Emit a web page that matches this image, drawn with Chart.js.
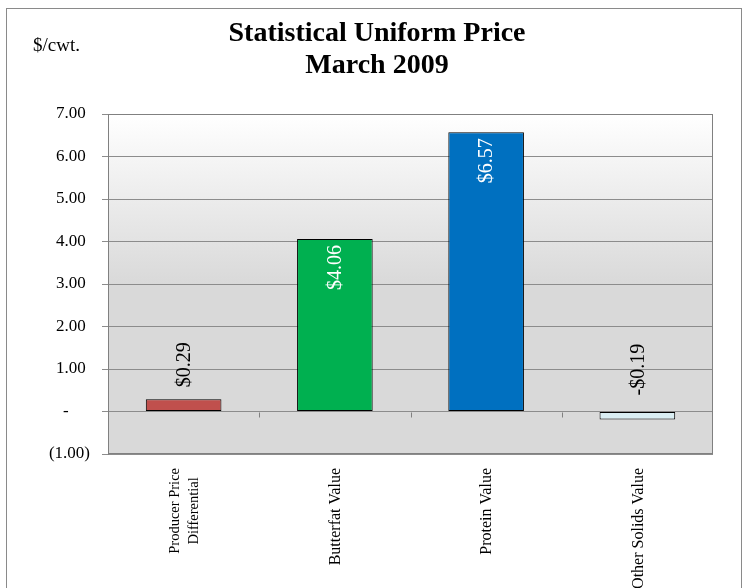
<!DOCTYPE html>
<html>
<head>
<meta charset="utf-8">
<script src="https://cdn.jsdelivr.net/npm/chart.js@4/dist/chart.umd.min.js"></script>
<style>
  html, body { margin: 0; padding: 0; background: #ffffff; }
  #wrap { width: 751px; height: 588px; position: relative; }
</style>
</head>
<body>
<div id="wrap"><canvas id="c" width="751" height="588"></canvas></div>
<script>
// ---- data ----
const titleLines = ['Statistical Uniform Price', 'March 2009'];
const unitLabel = '$/cwt.';
const categories = [['Producer Price', 'Differential'], ['Butterfat Value'], ['Protein Value'], ['Other Solids Value']];
const values = [0.29, 4.06, 6.57, -0.19];
const valueLabels = ['$0.29', '$4.06', '$6.57', '-$0.19'];
const yTickValues = [-1, 0, 1, 2, 3, 4, 5, 6, 7];
const yTickLabels = ['(1.00)', '-     ', '1.00 ', '2.00 ', '3.00 ', '4.00 ', '5.00 ', '6.00 ', '7.00 '];
const barColors = ['#C0504D', '#00B050', '#0070C0', '#DAEEF3'];

const SERIF = '"Liberation Serif", "Times New Roman", serif';

const decor = {
  id: 'decor',
  beforeDraw(chart) {
    const ctx = chart.ctx;
    const a = chart.chartArea;
    ctx.save();
    ctx.fillStyle = '#ffffff';
    ctx.fillRect(0, 0, chart.width, chart.height);
    // outer frame
    ctx.strokeStyle = '#8a8a8a';
    ctx.lineWidth = 1;
    ctx.strokeRect(6.5, 8.5, 735, 620);
    // plot gradient
    const g = ctx.createLinearGradient(0, a.top, 0, a.bottom);
    g.addColorStop(0, '#ffffff');
    g.addColorStop(0.5, '#d9d9d9');
    g.addColorStop(1, '#d9d9d9');
    ctx.fillStyle = g;
    ctx.fillRect(a.left, a.top, a.right - a.left, a.bottom - a.top);
    // title
    ctx.fillStyle = '#000000';
    ctx.textAlign = 'center';
    ctx.textBaseline = 'middle';
    ctx.font = 'bold 28px ' + SERIF;
    titleLines.forEach((t, i) => ctx.fillText(t, 377, 34 + i * 32));
    ctx.font = '19px ' + SERIF;
    ctx.textAlign = 'left';
    ctx.fillText(unitLabel, 33, 46);
    ctx.restore();
  },
  beforeDatasetsDraw(chart) {
    const ctx = chart.ctx;
    const a = chart.chartArea;
    const xs = chart.scales.x;
    const ys = chart.scales.y;
    ctx.save();
    ctx.strokeStyle = '#808080';
    ctx.lineWidth = 1;
    ctx.strokeRect(Math.round(a.left) + 0.5, Math.round(a.top) + 0.5,
                   Math.round(a.right - a.left) - 1, Math.round(a.bottom - a.top) - 1);
    const y0 = Math.round(ys.getPixelForValue(0)) + 0.5;
    ctx.beginPath();
    for (let i = 0; i < categories.length - 1; i++) {
      const xb = Math.round((xs.getPixelForValue(i) + xs.getPixelForValue(i + 1)) / 2) + 0.5;
      ctx.moveTo(xb, y0);
      ctx.lineTo(xb, y0 + 5);
    }
    ctx.stroke();
    ctx.restore();
  },
  afterDatasetsDraw(chart) {
    const ctx = chart.ctx;
    const ys = chart.scales.y;
    const xs = chart.scales.x;
    const a = chart.chartArea;
    const meta = chart.getDatasetMeta(0);
    const y0 = ys.getPixelForValue(0);
    ctx.save();
    ctx.font = '20px ' + SERIF;
    ctx.textBaseline = 'middle';
    meta.data.forEach((bar, i) => {
      const v = values[i];
      ctx.save();
      let ay;
      if (v > 1) {
        ay = bar.y + 6;
        ctx.fillStyle = '#ffffff';
        ctx.textAlign = 'right';
      } else {
        ay = Math.min(bar.y, y0) - (v < 0 ? 16 : 12);
        ctx.fillStyle = '#000000';
        ctx.textAlign = 'left';
      }
      ctx.translate(bar.x + 1, ay);
      ctx.rotate(-Math.PI / 2);
      ctx.fillText(valueLabels[i], 0, 0);
      ctx.restore();
    });
    // category labels (rotated, lines centred on each other)
    ctx.fillStyle = '#000000';
    ctx.textAlign = 'center';
    ctx.textBaseline = 'middle';
    categories.forEach((lines, i) => {
      const size = lines.length > 1 ? 14.5 : 16;
      ctx.font = size + 'px ' + SERIF;
      const lh = 19;
      const maxW = Math.max(...lines.map(l => ctx.measureText(l).width));
      const cx = xs.getPixelForValue(i) + 1;
      const top = a.bottom + 14;
      lines.forEach((l, j) => {
        ctx.save();
        ctx.translate(cx + (j - (lines.length - 1) / 2) * lh, top + maxW / 2);
        ctx.rotate(-Math.PI / 2);
        ctx.fillText(l, 0, 0);
        ctx.restore();
      });
    });
    ctx.restore();
  }
};

new Chart(document.getElementById('c'), {
  type: 'bar',
  data: {
    labels: categories,
    datasets: [{
      data: values,
      backgroundColor: barColors,
      borderColor: '#000000',
      borderWidth: 1,
      borderSkipped: false,
      categoryPercentage: 1.0,
      barPercentage: 0.5
    }]
  },
  options: {
    responsive: false,
    animation: false,
    events: [],
    layout: { padding: { left: 10, right: 38, top: 114, bottom: 0 } },
    plugins: { legend: { display: false }, title: { display: false }, tooltip: { enabled: false } },
    scales: {
      x: {
        grid: { display: false, drawTicks: false },
        border: { display: false },
        ticks: { display: false },
        afterFit(s) { s.height = 134; }
      },
      y: {
        min: -1, max: 7,
        afterBuildTicks(s) { s.ticks = yTickValues.map(v => ({ value: v })); },
        grid: { color: '#8c8c8c', lineWidth: 1, tickLength: 6, drawTicks: true },
        border: { display: true, color: '#808080' },
        ticks: {
          color: '#000000',
          font: { family: SERIF, size: 17 },
          padding: 12,
          callback(value) {
            const i = yTickValues.indexOf(value);
            return i >= 0 ? yTickLabels[i] : '';
          }
        },
        afterFit(s) { s.width = 98; }
      }
    }
  },
  plugins: [decor]
});
</script>
</body>
</html>
